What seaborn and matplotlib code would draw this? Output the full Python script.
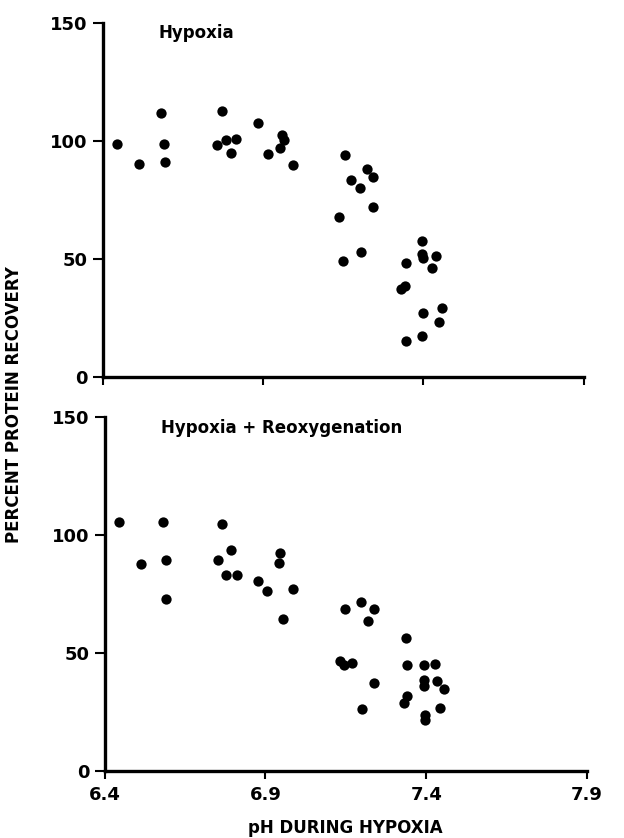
import matplotlib
matplotlib.use("Agg")
import matplotlib.pyplot as plt
import seaborn as sns
import pandas as pd

# pH during hypoxia and percent protein recovery, hypoxia alone
hyp_ph = [6.446, 6.514, 6.582, 6.592, 6.594, 6.771, 6.757, 6.783, 6.816, 6.801,
          6.883, 6.916, 6.958, 6.965, 6.952, 6.994, 7.154, 7.174, 7.223, 7.244,
          7.203, 7.244, 7.136, 7.206, 7.149, 7.396, 7.396, 7.399, 7.440, 7.428,
          7.346, 7.342, 7.331, 7.398, 7.457, 7.449, 7.396, 7.347]
hyp_rec = [98.7, 90.3, 111.8, 98.9, 91.3, 112.8, 98.4, 100.6, 100.7, 94.8,
           107.5, 94.5, 102.5, 100.6, 97.0, 90.0, 94.1, 83.5, 88.0, 84.9,
           80.0, 72.2, 67.8, 53.0, 49.4, 57.8, 52.2, 50.5, 51.3, 46.4,
           48.4, 38.6, 37.4, 27.1, 29.3, 23.4, 17.5, 15.2]

# hypoxia followed by reoxygenation
reox_ph = [6.445, 6.514, 6.580, 6.591, 6.592, 6.764, 6.792, 6.753, 6.776, 6.810,
           6.876, 6.906, 6.944, 6.943, 6.985, 6.954, 7.146, 7.197, 7.238, 7.218,
           7.133, 7.143, 7.168, 7.238, 7.200, 7.336, 7.341, 7.341, 7.332, 7.393,
           7.426, 7.393, 7.393, 7.434, 7.456, 7.443, 7.395, 7.396]
reox_rec = [105.4, 87.4, 105.6, 89.1, 72.8, 104.4, 93.4, 89.1, 82.9, 83.1,
            80.5, 76.2, 92.4, 88.2, 76.9, 64.5, 68.4, 71.5, 68.5, 63.6,
            46.5, 44.7, 45.7, 37.1, 26.2, 56.4, 44.6, 31.7, 28.8, 44.9,
            45.3, 38.4, 36.1, 37.9, 34.8, 26.5, 23.4, 21.3]

x_ticks = [6.4, 6.9, 7.4, 7.9]
x_tick_labels = ["6.4", "6.9", "7.4", "7.9"]
y_ticks = [0, 50, 100, 150]

sns.set_theme(style="ticks")
plt.rcParams["font.family"] = ["DejaVu Sans"]
plt.rcParams["font.weight"] = "bold"

fig = plt.figure(figsize=(6.24, 8.38), dpi=100)
ax_top = fig.add_axes([0.1646, 0.5498, 0.771, 0.4228])
ax_bot = fig.add_axes([0.1678, 0.0803, 0.773, 0.4224])

panels = [
    (ax_top, hyp_ph, hyp_rec, "Hypoxia", 0.972, False),
    (ax_bot, reox_ph, reox_rec, "Hypoxia + Reoxygenation", 0.968, True),
]

for ax, xs, ys, title, title_y, show_xlabels in panels:
    df = pd.DataFrame({"ph": xs, "recovery": ys})
    sns.scatterplot(data=df, x="ph", y="recovery", ax=ax, color="black",
                    s=55, edgecolor="black", linewidth=0)
    ax.set_xlim(6.4, 7.9)
    ax.set_ylim(0, 150)
    ax.set_xticks(x_ticks)
    ax.set_yticks(y_ticks)
    ax.set_yticklabels([str(v) for v in y_ticks], fontsize=13, fontweight="bold")
    if show_xlabels:
        ax.set_xticklabels(x_tick_labels, fontsize=13, fontweight="bold")
    else:
        ax.set_xticklabels([])
    ax.set_xlabel("")
    ax.set_ylabel("")
    sns.despine(ax=ax)
    for side in ("left", "bottom"):
        ax.spines[side].set_linewidth(2.4)
        ax.spines[side].set_color("black")
    ax.tick_params(axis="both", direction="out", width=1.5, color="black",
                   labelcolor="black")
    ax.tick_params(axis="y", length=7, pad=4)
    ax.tick_params(axis="x", length=6, pad=5)
    ax.text(0.116, title_y, title, transform=ax.transAxes, fontsize=12,
            fontweight="bold", ha="left", va="center", color="black")

fig.text(0.553, 0.012, "pH DURING HYPOXIA", ha="center", va="center",
         fontsize=12, fontweight="bold", color="black")
fig.text(0.023, 0.517, "PERCENT PROTEIN RECOVERY", ha="center", va="center",
         rotation=90, fontsize=12, fontweight="bold", color="black")

fig.savefig("out.png", dpi=100, facecolor="white")
